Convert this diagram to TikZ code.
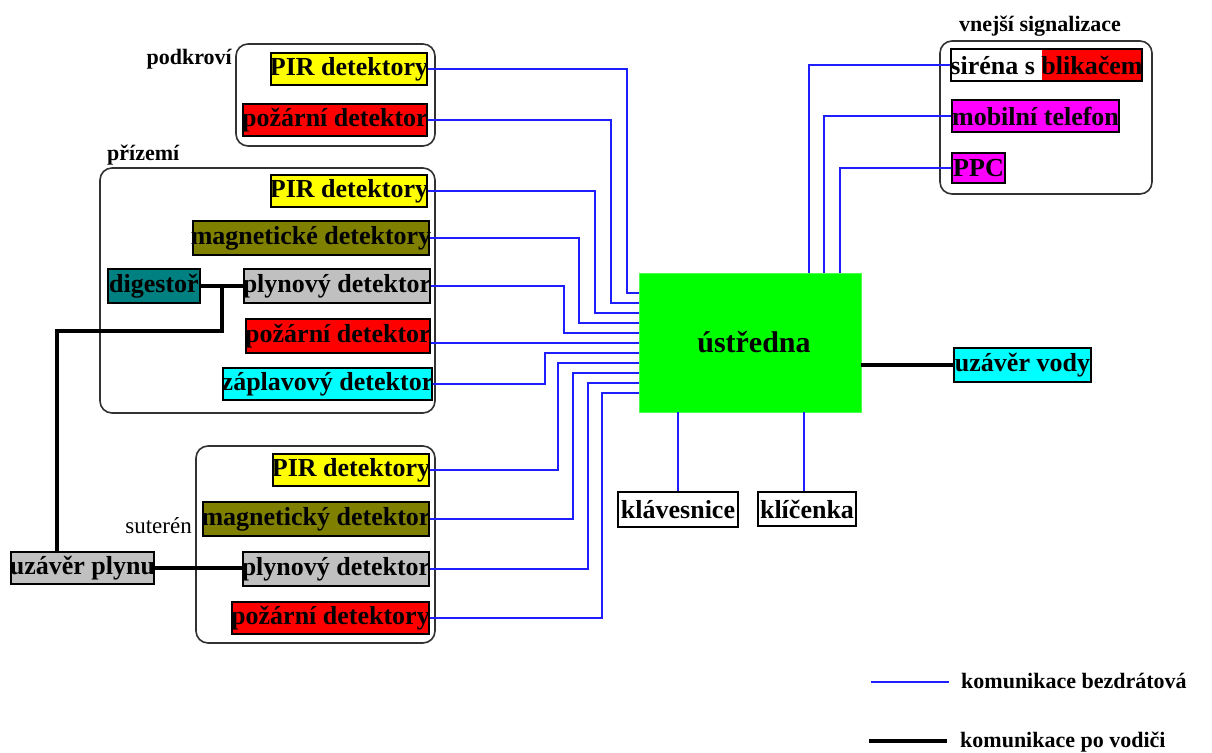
\documentclass[tikz,border=0pt]{standalone}
\usepackage{fontspec}
\setmainfont{Liberation Serif}
\usetikzlibrary{calc}
\definecolor{cyel}{RGB}{255,255,0}
\definecolor{cred}{RGB}{255,0,0}
\definecolor{coli}{RGB}{128,128,0}
\definecolor{cteal}{RGB}{0,128,128}
\definecolor{cgray}{RGB}{192,192,192}
\definecolor{ccyan}{RGB}{0,255,255}
\definecolor{cmag}{RGB}{255,0,255}
\definecolor{cgreen}{RGB}{0,255,0}
\definecolor{cwire}{RGB}{30,30,255}
\definecolor{cgrp}{RGB}{50,50,50}
\newcommand\devfont{\fontsize{26}{28}\selectfont\bfseries}
\newcommand\lblfont{\fontsize{22}{24}\selectfont\bfseries}
\newcommand\mkdev[7]{\node[dev, fill=#6, minimum width={#3-#2}, minimum height={#5-#4}] (#1) at ({(#2+#3)/2},{(#4+#5)/2}) {\makebox[0pt]{#7}};}
\tikzset{
  dev/.style={draw=black, line width=1.5pt, inner sep=0pt, font=\devfont, text=black},
  grp/.style={draw=cgrp, line width=1.6pt, rounded corners=12pt},
  wl/.style={draw=cwire, line width=1.9pt},
  bw/.style={draw=black, line width=3.4pt},
  lbl/.style={font=\lblfont, inner sep=0pt, text=black}
}
\begin{document}
\begin{tikzpicture}[x=1pt,y=-1pt]
\useasboundingbox[fill=white] (0,0) rectangle (1212,752);

% groups
\draw[grp] (236,44) rectangle (435,146);
\draw[grp] (100,168) rectangle (435,413);
\draw[grp] (196,446) rectangle (435,643);
\draw[grp] (940,41) rectangle (1152,194);

% group labels
\node[lbl, anchor=base east] (lpod) at (232,65) {podkroví};
\node[lbl, anchor=base west] (lpri) at (107,160) {přízemí};
\node[lbl, anchor=base east, font=\fontsize{23}{25}\selectfont] (lsut) at (192,533) {suterén};
\node[lbl, anchor=base] (lvne) at (1040,32) {vnejší signalizace};

% podkroví
\mkdev{pPIR}{271}{427}{53}{85}{cyel}{PIR detektory}
\mkdev{pPoz}{243}{427}{104}{136}{cred}{požární detektor}
% přízemí
\mkdev{zPIR}{271}{427}{175}{207}{cyel}{PIR detektory}
\mkdev{zMag}{193}{429}{221}{255}{coli}{magnetické detektory}
\mkdev{dig}{108}{200}{269}{303}{cteal}{digestoř}
\mkdev{zPlyn}{244}{430}{269}{303}{cgray}{plynový detektor}
\mkdev{zPoz}{246}{430}{319}{353}{cred}{požární detektor}
\mkdev{zZap}{223}{432}{368}{400}{ccyan}{záplavový detektor}
% suterén
\mkdev{sPIR}{273}{429}{454}{486}{cyel}{PIR detektory}
\mkdev{sMag}{203}{429}{502}{536}{coli}{magnetický detektor}
\mkdev{sPlyn}{243}{429}{552}{586}{cgray}{plynový detektor}
\mkdev{sPoz}{232}{429}{602}{634}{cred}{požární detektory}
\mkdev{uPlyn}{11}{154}{552}{584}{cgray}{uzávěr plynu}
% right side
\node[dev, fill=white, minimum width=191, minimum height=32,
  path picture={\fill[cred] ([xshift=91pt]path picture bounding box.south west) rectangle (path picture bounding box.north east);}]
  (sir) at (1046.5,65) {\makebox[0pt]{siréna s blikačem}};
\mkdev{mob}{952}{1119}{100}{132}{cmag}{mobilní telefon}
\mkdev{ppc}{952}{1005}{153}{183}{cmag}{PPC}
\mkdev{vody}{954}{1091}{348}{382}{ccyan}{uzávěr vody}
\mkdev{kl}{618}{738}{492}{527}{white}{klávesnice}
\mkdev{kli}{758}{856}{492}{526}{white}{klíčenka}

% central unit
\node[fill=cgreen, draw=cgreen!70!white, line width=0.8pt, minimum width=222, minimum height=139, inner sep=0pt,
  font=\fontsize{30}{32}\selectfont\bfseries] (u) at (750,342.5) {\makebox[0pt]{\hspace{8pt}ústředna}};

% entry points on the left side of the central unit
\foreach \i in {1,...,11} {
  \coordinate (e\i) at ($(u.north west)+(0,{10+10*\i})$);
}

% wireless connections
\draw[wl] (pPIR.east) -| ($(e1)+(-12,0)$) -- (e1);
\draw[wl] (pPoz.east) -| ($(e2)+(-28,0)$) -- (e2);
\draw[wl] (zPIR.east) -| ($(e3)+(-44,0)$) -- (e3);
\draw[wl] (zMag.east) -| ($(e4)+(-60,0)$) -- (e4);
\draw[wl] (zPlyn.east) -| ($(e5)+(-75,0)$) -- (e5);
\draw[wl] (zPoz.east |- e6) -- (e6);
\draw[wl] (zZap.east) -| ($(e7)+(-94,0)$) -- (e7);
\draw[wl] (sPIR.east) -| ($(e8)+(-81,0)$) -- (e8);
\draw[wl] (sMag.east) -| ($(e9)+(-66,0)$) -- (e9);
\draw[wl] (sPlyn.east) -| ($(e10)+(-51,0)$) -- (e10);
\draw[wl] (sPoz.east) -| ($(e11)+(-37,0)$) -- (e11);

\draw[wl] (sir.west) -| ($(u.north west)+(170,0)$);
\draw[wl] (mob.west) -| ($(u.north west)+(185,0)$);
\draw[wl] (ppc.west) -| ($(u.north west)+(201,0)$);

\draw[wl] (kl.north) -- (kl.north |- u.south);
\draw[wl] ([xshift=-3pt]kli.north) -- ([xshift=-3pt]kli.north |- u.south);

% wired connections
\draw[bw] (vody.west) -- (vody.west -| u.east);
\draw[bw] (dig.east) -- (zPlyn.west |- dig.east);
\coordinate (jt) at ($(dig.east)!0.5!(zPlyn.west |- dig.east)$);
\coordinate (jb) at (57,331);
\draw[bw] (jt) |- (jb) -- (jb |- uPlyn.north);
\draw[bw] (uPlyn.east) -- (sPlyn.west |- uPlyn.east);

% legend
\coordinate (la1) at (871,682);
\coordinate (la2) at (949,682);
\coordinate (lb1) at (869,741);
\coordinate (lb2) at (947,741);
\draw[wl] (la1) -- (la2);
\draw[bw] (lb1) -- (lb2);
\node[lbl, anchor=base west] (lt1) at (961,688) {komunikace bezdrátová};
\node[lbl, anchor=base west] (lt2) at (960,747) {komunikace po vodiči};
\end{tikzpicture}
\end{document}
